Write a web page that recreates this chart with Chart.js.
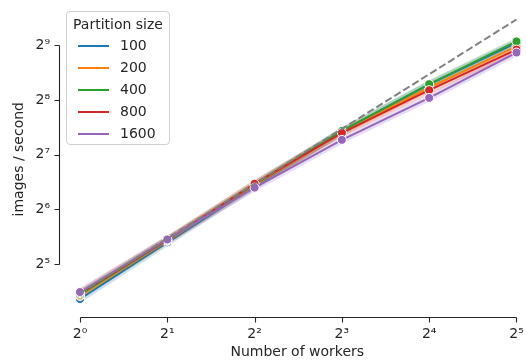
<!DOCTYPE html>
<html>
<head>
<meta charset="utf-8">
<script src="https://cdn.jsdelivr.net/npm/chart.js@4.4.1/dist/chart.umd.min.js"></script>
<style>
  body { margin: 0; background: #fff; }
  #wrap { position: relative; width: 526px; height: 361px; }
  #legend {
    position: absolute; left: 66px; top: 11px; width: 102px; height: 132px;
    border: 1px solid #d0d0d0; border-radius: 4px; background: rgba(255,255,255,0.8);
    font-family: "DejaVu Sans", sans-serif; font-size: 14px; color: #262626;
  }
  #legend .ttl { position: absolute; left: 6px; top: 4px; white-space: nowrap; }
  #legend .row { position: absolute; left: 11px; height: 20px; line-height: 20px; white-space: nowrap; }
  #legend .row span { display: inline-block; width: 31px; height: 2px; vertical-align: middle; margin-right: 11px; }
</style>
</head>
<body>
<div id="wrap">
  <canvas id="chart" width="526" height="361"></canvas>
  <div id="legend"></div>
</div>
<script>
'use strict';

// data
const workers = [1, 2, 4, 8, 16, 32];
const partitionSizes = ['100', '200', '400', '800', '1600'];
const rate100 = [20.6, 42.2, 86, 172, 312, 528];
const rate200 = [21.4, 43.0, 87, 170, 300, 505];
const rate400 = [21.8, 43.4, 88, 173, 313, 538];
const rate800 = [22.2, 43.6, 88.7, 169, 290, 485];
const rate1600 = [22.5, 43.8, 84.4, 154.6, 263, 467];
const idealRate = [22.2, 44.4, 88.8, 177.6, 355, 710];
const xTicks = [1, 2, 4, 8, 16, 32];
const yTicks = [32, 64, 128, 256, 512];

const rates = [rate100, rate200, rate400, rate800, rate1600];
const colors = ['#1f77b4', '#ff7f0e', '#2ca02c', '#d62728', '#9467bd'];
const bandColors = ['rgba(31,119,180,0.22)', 'rgba(255,127,14,0.22)', 'rgba(44,160,44,0.22)',
  'rgba(214,39,40,0.22)', 'rgba(148,103,189,0.22)'];
const ink = '#262626';
const font = { family: 'DejaVu Sans', size: 14 };

const supDigits = '⁰¹²³⁴⁵⁶⁷⁸⁹';
function powLabel(v) {
  let e = String(Math.round(Math.log2(v)));
  let s = '';
  for (let i = 0; i < e.length; i++) {
    s += supDigits[Number(e[i])];
  }
  return '2' + s;
}

function pts(arr) {
  return workers.map((w, i) => ({ x: w, y: arr[i] }));
}

let datasets = [];
// soft bands under each line
for (let i = 0; i < rates.length; i++) {
  datasets.push({
    data: pts(rates[i]),
    borderColor: bandColors[i],
    borderWidth: 7,
    pointRadius: 0,
    order: 20 - i
  });
}
for (let i = 0; i < rates.length; i++) {
  datasets.push({
    label: partitionSizes[i],
    data: pts(rates[i]),
    borderColor: colors[i],
    backgroundColor: colors[i],
    borderWidth: 2,
    pointRadius: 4.5,
    pointBorderColor: '#ffffff',
    pointBorderWidth: 1,
    order: 10 - i
  });
}
datasets.push({
  data: pts(idealRate),
  borderColor: '#808080',
  borderWidth: 2,
  borderDash: [7.4, 3.2],
  pointRadius: 0,
  order: 0
});

// trimmed, offset spines like seaborn despine
const spines = {
  id: 'spines',
  afterDraw(chart) {
    const ctx = chart.ctx;
    const xs = chart.scales.x;
    const ys = chart.scales.y;
    const yLine = 317.5;
    const xLine = 59.5;
    ctx.save();
    ctx.strokeStyle = ink;
    ctx.lineWidth = 1.1;
    ctx.beginPath();
    ctx.moveTo(Math.round(xs.getPixelForValue(xTicks[0])) + 0.5, yLine);
    ctx.lineTo(Math.round(xs.getPixelForValue(xTicks[xTicks.length - 1])) + 0.5, yLine);
    xTicks.forEach(t => {
      const px = Math.round(xs.getPixelForValue(t)) + 0.5;
      ctx.moveTo(px, yLine);
      ctx.lineTo(px, yLine + 5);
    });
    ctx.moveTo(xLine, Math.round(ys.getPixelForValue(yTicks[yTicks.length - 1])) + 0.5);
    ctx.lineTo(xLine, Math.round(ys.getPixelForValue(yTicks[0])) + 0.5);
    yTicks.forEach(t => {
      const py = Math.round(ys.getPixelForValue(t)) + 0.5;
      ctx.moveTo(xLine, py);
      ctx.lineTo(xLine - 5, py);
    });
    ctx.stroke();
    ctx.restore();
  }
};

new Chart(document.getElementById('chart'), {
  type: 'line',
  data: { datasets: datasets },
  options: {
    responsive: false,
    animation: false,
    layout: { padding: { top: 4, right: 0, left: 0, bottom: 0 } },
    plugins: { legend: { display: false }, tooltip: { enabled: false } },
    scales: {
      x: {
        type: 'logarithmic',
        bounds: 'data',
        min: Math.pow(2, -0.0685),
        max: Math.pow(2, 5.046),
        afterBuildTicks: s => { s.ticks = xTicks.map(v => ({ value: v })); },
        afterFit: s => { s.height = 48; s.paddingLeft = 0; s.paddingRight = 0; },
        grid: { display: false, drawTicks: false },
        border: { display: false },
        ticks: { callback: v => powLabel(v), autoSkip: false, maxRotation: 0, padding: 13, color: ink, font: font },
        title: { display: true, text: 'Number of workers', color: ink, font: font, padding: { top: 5, bottom: 0 } }
      },
      y: {
        type: 'logarithmic',
        bounds: 'data',
        min: Math.pow(2, 4.109),
        max: Math.pow(2, 9.727),
        afterBuildTicks: s => { s.ticks = yTicks.map(v => ({ value: v })); },
        afterFit: s => { s.width = 74; s.paddingTop = 0; s.paddingBottom = 0; },
        grid: { display: false, drawTicks: false },
        border: { display: false },
        ticks: { callback: v => powLabel(v), autoSkip: false, padding: 24, color: ink, font: font },
        title: { display: true, text: 'images / second', color: ink, font: font, padding: { top: 11, bottom: 4 } }
      }
    }
  },
  plugins: [spines]
});

// legend built from the same arrays
const legend = document.getElementById('legend');
let ttl = document.createElement('div');
ttl.className = 'ttl';
ttl.textContent = 'Partition size';
legend.appendChild(ttl);
for (let i = 0; i < partitionSizes.length; i++) {
  let row = document.createElement('div');
  row.className = 'row';
  row.style.top = (23 + i * 22) + 'px';
  let sw = document.createElement('span');
  sw.style.background = colors[i];
  row.appendChild(sw);
  row.appendChild(document.createTextNode(partitionSizes[i]));
  legend.appendChild(row);
}
</script>
</body>
</html>
